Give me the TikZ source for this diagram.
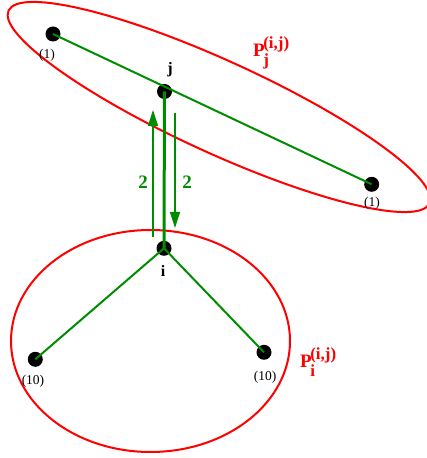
\documentclass[tikz,border=0pt]{standalone}
\usepackage{fontspec}
\setmainfont{Liberation Serif}
\usetikzlibrary{arrows.meta}
\definecolor{pgreen}{RGB}{0,140,0}
\newcommand{\partlabel}[1]{P\kern-1.5pt\rlap{\raisebox{8pt}{\fontsize{17}{17}\selectfont(i,j)}}\raisebox{-8.5pt}{\fontsize{17}{17}\selectfont #1}}

\begin{document}
\begin{tikzpicture}[x=1pt, y=1pt,
  vert/.style={circle, fill=black, inner sep=0pt, minimum size=15pt},
  weight/.style={font=\fontsize{13.5}{13.5}\selectfont},
  vname/.style={font=\bfseries\fontsize{16}{16}\selectfont},
  part/.style={red, font=\bfseries\fontsize{19}{19}\selectfont, anchor=base west, inner sep=0pt},
  flow/.style={pgreen, line width=1.2pt, -{Triangle[length=16pt,width=10pt]}},
  cost/.style={pgreen, font=\bfseries\fontsize{19}{19}\selectfont}]
\useasboundingbox (0,0) rectangle (426,458);
% the two parts
\draw[red, line width=2pt] (219,351) ellipse [x radius=231.5, y radius=46, rotate=-24.6];
\draw[red, line width=2pt] (150.5,117) ellipse [x radius=139.5, y radius=111];
\node[part] (pj) at (253,401) {\partlabel{j}};
\node[part] (pi) at (300,90) {\partlabel{i}};
% vertices
\node[vert] (a) at (53,424) {};
\node[vert] (j) at (164.5,366.5) {};
\node[vert] (b) at (371.7,273.7) {};
\node[vert] (i) at (164,209.7) {};
\node[vert] (c) at (35.3,98.7) {};
\node[vert] (d) at (264,105.7) {};
\node[vname] at (170,388) {j};
\node[vname] at (163,187) {i};
\node[weight] at (47,403) {(1)};
\node[weight] at (372,255) {(1)};
\node[weight] at (33,77) {(10)};
\node[weight] at (265,81) {(10)};
% edges
\draw[pgreen, line width=2pt] (a.center) -- (b.center);
\draw[pgreen, line width=2pt] (i.center) -- (c.center);
\draw[pgreen, line width=2pt] (i.center) -- (d.center);
\draw[pgreen, line width=3pt] (j.center) -- (i.center);
% messages
\coordinate (up0) at (153,221);
\coordinate (up1) at (153,348);
\coordinate (dn0) at (175,345);
\coordinate (dn1) at (175,230);
\draw[flow] (up0) -- (up1);
\draw[flow] (dn0) -- (dn1);
\node[cost] at (143,276) {2};
\node[cost] at (187,276) {2};
\end{tikzpicture}
\end{document}
